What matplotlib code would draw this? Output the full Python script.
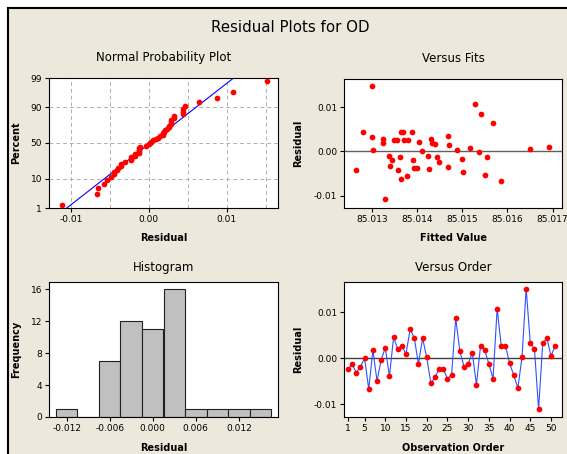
import matplotlib
matplotlib.use('Agg')
import matplotlib.pyplot as plt
import numpy as np
from statistics import NormalDist
from matplotlib.patches import Rectangle

# residuals in observation order (1..51)
residuals = [-0.0023, -0.0013, -0.0031, -0.0018, 0.0000, -0.0067, 0.0018, -0.0049,
             -0.0003, 0.0023, -0.0039, 0.0046, 0.0020, 0.0026, 0.0010, 0.0064,
             0.0044, -0.0012, 0.0044, 0.0002, -0.0054, -0.0041, -0.0023, -0.0023,
             -0.0044, -0.0036, 0.0088, 0.0015, -0.0018, -0.0012, 0.0012, -0.0057,
             0.0028, 0.0018, -0.0012, -0.0044, 0.0108, 0.0026, 0.0028, -0.0011,
             -0.0036, -0.0065, 0.0003, 0.0152, 0.0033, 0.0021, -0.0111, 0.0033,
             0.0044, 0.0005, 0.0028]

# versus fits (fitted value, residual)
fits = [85.01264, 85.01279, 85.01300, 85.01299, 85.01303, 85.01324, 85.01324, 85.01329,
        85.01338, 85.01340, 85.01344, 85.01349, 85.01355, 85.01358, 85.01362, 85.01364,
        85.01365, 85.01369, 85.01370, 85.01377, 85.01380, 85.01388, 85.01390, 85.01394,
        85.01399, 85.01404, 85.01410, 85.01424, 85.01426, 85.01430, 85.01432, 85.01439,
        85.01445, 85.01448, 85.01469, 85.01471, 85.01469, 85.01489, 85.01500, 85.01502,
        85.01518, 85.01529, 85.01538, 85.01542, 85.01551, 85.01555, 85.01568, 85.01586,
        85.01650, 85.01693]
fit_resid = [-0.0042, 0.0043, 0.0149, 0.0032, 0.0003, 0.0029, 0.0019, -0.0108,
             -0.0010, -0.0032, -0.0020, 0.0026, 0.0026, -0.0042, -0.0013, -0.0063,
             0.0045, 0.0045, 0.0025, -0.0055, 0.0025, 0.0043, -0.0019, -0.0037,
             -0.0037, 0.0022, 0.0000, -0.0011, -0.0040, 0.0029, 0.0019, 0.0017,
             -0.0013, -0.0023, 0.0035, 0.0014, -0.0035, 0.0003, -0.0018, -0.0047,
             0.0008, 0.0107, -0.0002, 0.0085, -0.0053, -0.0013, 0.0064, -0.0066,
             0.0006, 0.0011]

# histogram
bin_centers = [-0.012, -0.009, -0.006, -0.003, 0.000, 0.003, 0.006, 0.009, 0.012, 0.015]
bin_counts = [1, 0, 7, 12, 11, 16, 1, 1, 1, 1]

pct_ticks = [1, 10, 50, 90, 99]

bg = '#ECE9DC'
W, H = 567, 454
fig = plt.figure(figsize=(W / 100, H / 100), dpi=100, facecolor='white')
fig.patches.append(Rectangle((8 / W, -0.05), 1.1, 1 - 8 / H + 0.05, transform=fig.transFigure,
                             facecolor=bg, edgecolor='black', lw=1.5, zorder=-1))

fig.text(290 / W, 1 - 28 / H, 'Residual Plots for OD', ha='center', va='center', fontsize=10.8)


def make_ax(x0, y0, x1, y1):
    ax = fig.add_axes([x0 / W, 1 - y1 / H, (x1 - x0) / W, (y1 - y0) / H])
    ax.set_facecolor('white')
    for s in ax.spines.values():
        s.set_linewidth(0.8)
    ax.tick_params(labelsize=6.5, length=3, width=0.8, pad=2)
    return ax


def labels(ax, title, xlab, ylab, tpad, ycoord):
    ax.text(0.5, 1 + tpad, title, transform=ax.transAxes, ha='center', va='center', fontsize=8.5)
    ax.set_xlabel(xlab, fontsize=7, fontweight='bold')
    ax.set_ylabel(ylab, fontsize=7, fontweight='bold')
    ax.xaxis.set_label_coords(0.5, -0.19)
    ax.yaxis.set_label_coords(ycoord, 0.5)


nd = NormalDist()
res = np.array(residuals)

# Normal probability plot
ax1 = make_ax(49, 78, 278, 208)
srt = np.sort(res)
n = len(srt)
z = np.array([nd.inv_cdf((i + 1 - 0.3) / (n + 0.4)) for i in range(n)])
zlo, zhi = nd.inv_cdf(0.01), nd.inv_cdf(0.99)
mu, sd = res.mean(), res.std(ddof=1)
ax1.plot([mu + sd * zlo, mu + sd * zhi], [zlo, zhi], color='blue', lw=0.8, zorder=2)
ax1.scatter(srt, z, s=17, color='red', zorder=3, linewidths=0)
ax1.set_ylim(zlo, zhi)
ax1.set_xlim(-0.0128, 0.0166)
ax1.set_yticks([nd.inv_cdf(p / 100) for p in pct_ticks])
ax1.set_yticklabels([str(p) for p in pct_ticks])
ax1.set_xticks([-0.01, 0.0, 0.01])
ax1.set_xticklabels(['-0.01', '0.00', '0.01'])
for x in [-0.01, -0.005, 0.0, 0.005, 0.01, 0.015]:
    ax1.axvline(x, color='#b0b0b0', ls=(0, (4, 3)), lw=0.7, zorder=1)
for p in [10, 50, 90]:
    ax1.axhline(nd.inv_cdf(p / 100), color='#b0b0b0', ls=(0, (4, 3)), lw=0.7, zorder=1)
labels(ax1, 'Normal Probability Plot', 'Residual', 'Percent', 0.16, -0.122)

# Versus fits
ax2 = make_ax(344, 79, 562, 208)
ax2.axhline(0, color='#606060', lw=1, zorder=1)
ax2.scatter(fits, fit_resid, s=17, color='red', zorder=3, linewidths=0)
ax2.set_xlim(85.01238, 85.01721)
ax2.set_ylim(-0.0128, 0.0164)
ax2.set_xticks([85.013, 85.014, 85.015, 85.016, 85.017])
ax2.set_xticklabels(['85.013', '85.014', '85.015', '85.016', '85.017'])
ax2.set_yticks([-0.01, 0.0, 0.01])
ax2.set_yticklabels(['-0.01', '0.00', '0.01'])
labels(ax2, 'Versus Fits', 'Fitted Value', 'Residual', 0.16, -0.188)

# Histogram
ax3 = make_ax(49, 282, 278, 417)
ax3.bar(bin_centers, bin_counts, width=0.003, color='#c0c0c0', edgecolor='#202020', lw=0.8)
ax3.set_xlim(-0.01446, 0.01746)
ax3.set_ylim(0, 16.88)
ax3.set_yticks([0, 4, 8, 12, 16])
ax3.set_xticks([-0.012, -0.006, 0.0, 0.006, 0.012])
ax3.set_xticklabels(['-0.012', '-0.006', '0.000', '0.006', '0.012'])
labels(ax3, 'Histogram', 'Residual', 'Frequency', 0.11, -0.122)

# Versus order
ax4 = make_ax(344, 282, 562, 417)
order = np.arange(1, len(residuals) + 1)
ax4.axhline(0, color='#404040', lw=1, zorder=1)
ax4.plot(order, residuals, color='#3050ff', lw=0.8, zorder=2)
ax4.scatter(order, residuals, s=17, color='red', zorder=3, linewidths=0)
ax4.set_xlim(0.03, 52.65)
ax4.set_ylim(-0.01277, 0.01664)
ax4.set_xticks([1, 5, 10, 15, 20, 25, 30, 35, 40, 45, 50])
ax4.set_yticks([-0.01, 0.0, 0.01])
ax4.set_yticklabels(['-0.01', '0.00', '0.01'])
labels(ax4, 'Versus Order', 'Observation Order', 'Residual', 0.11, -0.188)

fig.savefig('out.png', dpi=100, facecolor=fig.get_facecolor())
